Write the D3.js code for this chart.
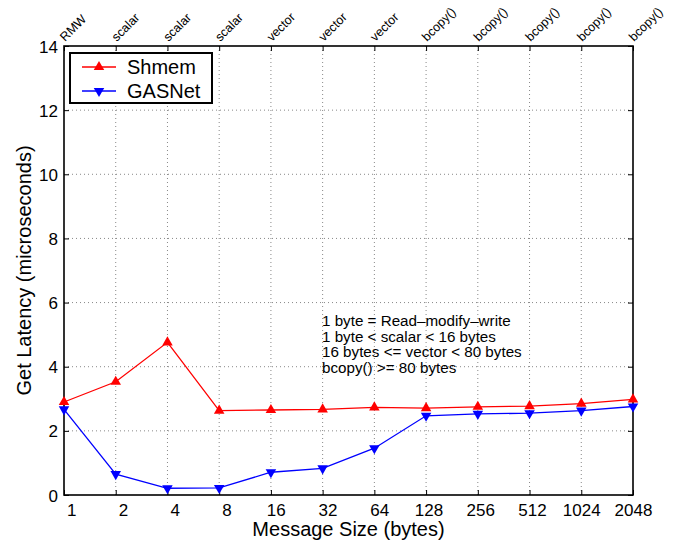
<!DOCTYPE html>
<html>
<head>
<meta charset="utf-8">
<script src="https://cdn.jsdelivr.net/npm/d3@7"></script>
<style>
  body { margin: 0; background: #fff; }
  svg { display: block; font-family: "Liberation Sans", Arial, Helvetica, sans-serif; }
</style>
</head>
<body>
<div id="chart"></div>
<script>
// message sizes (bytes) and the transfer kind used for each
const sizes = ["1", "2", "4", "8", "16", "32", "64", "128", "256", "512", "1024", "2048"];
const kinds = ["RMW", "scalar", "scalar", "scalar", "vector", "vector", "vector",
               "bcopy()", "bcopy()", "bcopy()", "bcopy()", "bcopy()"];

// get latency in microseconds
const shmem  = [2.90, 3.53, 4.76, 2.63, 2.65, 2.67, 2.73, 2.71, 2.75, 2.77, 2.85, 2.98];
const gasnet = [2.67, 0.65, 0.21, 0.22, 0.71, 0.83, 1.46, 2.47, 2.53, 2.55, 2.63, 2.76];

const yTicks = [0, 2, 4, 6, 8, 10, 12, 14];

const notes = [
    "1 byte = Read\u2013modify\u2013write",
    "1 byte < scalar < 16 bytes",
    "16 bytes <= vector < 80 bytes",
    "bcopy() >= 80 bytes"
];

const series = [
    { name: "Shmem", values: shmem, color: "#ff0000", symbol: "up" },
    { name: "GASNet", values: gasnet, color: "#0000ff", symbol: "down" }
];

const width = 678, height = 542;
const margin = { left: 64, right: 45, top: 46, bottom: 47 };
const boundWidth = width - margin.left - margin.right;
const boundHeight = height - margin.top - margin.bottom;

const svg = d3.select("#chart").append("svg")
    .attr("width", width).attr("height", height);

const bound = svg.append("g")
    .attr("transform", `translate(${margin.left},${margin.top})`);

const xScale = d3.scalePoint().domain(sizes).range([0, boundWidth]);
const yScale = d3.scaleLinear().domain([0, 14]).range([boundHeight, 0]);

// dotted grid
bound.append("g").selectAll("line").data(sizes.slice(1, -1)).join("line")
    .attr("x1", d => xScale(d)).attr("x2", d => xScale(d))
    .attr("y1", 0).attr("y2", boundHeight)
    .attr("stroke", "#888").attr("stroke-width", 1).attr("stroke-dasharray", "1,3");

bound.append("g").selectAll("line").data(yTicks.slice(1, -1)).join("line")
    .attr("x1", 0).attr("x2", boundWidth)
    .attr("y1", d => yScale(d)).attr("y2", d => yScale(d))
    .attr("stroke", "#888").attr("stroke-width", 1).attr("stroke-dasharray", "1,3");

// inward ticks on all sides
const tickLen = 5;
const bottomAxis = bound.append("g")
    .attr("transform", `translate(0,${boundHeight})`)
    .call(d3.axisBottom(xScale).tickSizeInner(-tickLen).tickSizeOuter(0).tickPadding(9));
const topAxis = bound.append("g")
    .call(d3.axisTop(xScale).tickSizeInner(-tickLen).tickSizeOuter(0).tickFormat(""));
const leftAxis = bound.append("g")
    .call(d3.axisLeft(yScale).tickValues(yTicks).tickSizeInner(-tickLen).tickSizeOuter(0).tickPadding(6));
const rightAxis = bound.append("g")
    .attr("transform", `translate(${boundWidth},0)`)
    .call(d3.axisRight(yScale).tickValues(yTicks).tickSizeInner(-tickLen).tickSizeOuter(0).tickFormat(""));

[bottomAxis, topAxis, leftAxis, rightAxis].forEach(ax => {
    ax.select(".domain").remove();
    ax.selectAll(".tick line").attr("stroke", "#000").attr("stroke-width", 1);
    ax.selectAll("text").attr("font-size", 17).attr("fill", "#000")
        .attr("font-family", "Liberation Sans, Arial, sans-serif");
});
leftAxis.selectAll("text").attr("dy", "0.36em");
// short labels sit a little right of their tick, as in the original
bottomAxis.selectAll("text").attr("dx", d => (4 - d.length) * 2.4);

// frame
bound.append("rect")
    .attr("x", 0).attr("y", 0)
    .attr("width", boundWidth).attr("height", boundHeight)
    .attr("fill", "none").attr("stroke", "#000").attr("stroke-width", 1.6);

// kind labels along the top
bound.append("g").selectAll("text").data(sizes).join("text")
    .attr("transform", (d) => `translate(${xScale(d) + 1},-4) rotate(-45)`)
    .attr("font-size", 12.5)
    .text((d, i) => kinds[i]);

// lines and markers
const line = d3.line()
    .x((d, i) => xScale(sizes[i]))
    .y(d => yScale(d));

const triUp = d3.symbol().type(d3.symbolTriangle).size(48);

series.forEach(s => {
    bound.append("path")
        .attr("d", line(s.values))
        .attr("fill", "none").attr("stroke", s.color).attr("stroke-width", 1.3);

    bound.append("g").selectAll("path").data(s.values).join("path")
        .attr("d", triUp())
        .attr("transform", (d, i) =>
            `translate(${xScale(sizes[i])},${yScale(d)})` + (s.symbol === "down" ? " rotate(180)" : ""))
        .attr("fill", s.color);
});

// notes
const notesText = bound.append("text")
    .attr("x", 258).attr("y", 280)
    .attr("font-size", 15.2).attr("fill", "#000");
notesText.selectAll("tspan").data(notes).join("tspan")
    .attr("x", 258).attr("dy", (d, i) => i === 0 ? 0 : 15.6)
    .text(d => d);

// legend
const legend = bound.append("g").attr("transform", "translate(6,7)");
legend.append("rect")
    .attr("x", 0).attr("y", 0).attr("width", 142).attr("height", 50)
    .attr("fill", "#fff").attr("stroke", "#000").attr("stroke-width", 2);

series.forEach((s, i) => {
    const row = legend.append("g").attr("transform", `translate(0,${14 + i * 24})`);
    row.append("line")
        .attr("x1", 12).attr("x2", 46).attr("y1", 0).attr("y2", 0)
        .attr("stroke", s.color).attr("stroke-width", 1.3);
    row.append("path")
        .attr("d", triUp())
        .attr("transform", `translate(29,0)` + (s.symbol === "down" ? " rotate(180)" : ""))
        .attr("fill", s.color);
    row.append("text")
        .attr("x", 57).attr("y", 7)
        .attr("font-size", 20)
        .text(s.name);
});

// axis titles
svg.append("text")
    .attr("x", margin.left + boundWidth / 2).attr("y", 536)
    .attr("text-anchor", "middle").attr("font-size", 20)
    .text("Message Size (bytes)");

svg.append("text")
    .attr("transform", `translate(31,${margin.top + boundHeight / 2}) rotate(-90)`)
    .attr("text-anchor", "middle").attr("font-size", 20)
    .text("Get Latency (microseconds)");
</script>
</body>
</html>
